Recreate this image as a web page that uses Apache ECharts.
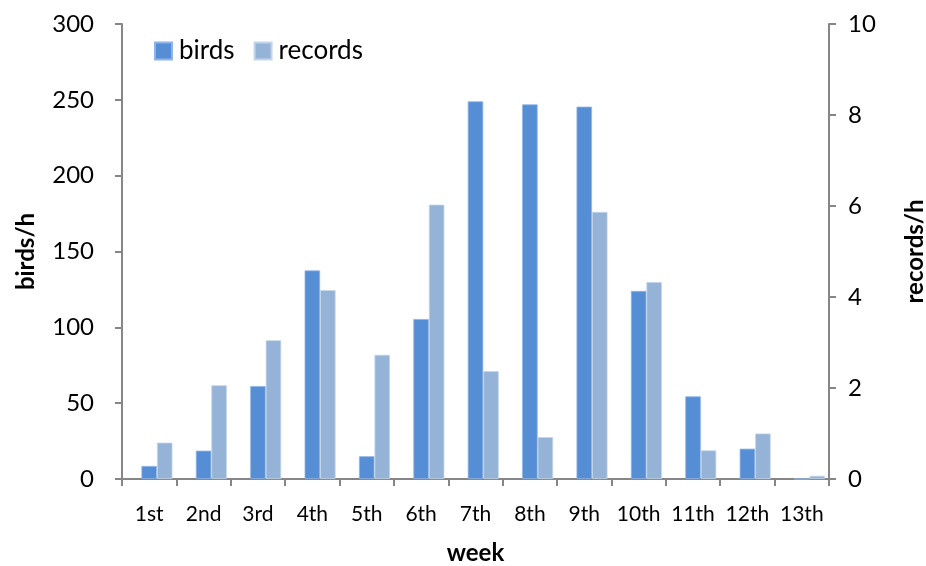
<!DOCTYPE html>
<html><head><meta charset="utf-8">
<script src="https://cdn.jsdelivr.net/npm/echarts@6/dist/echarts.min.js"></script>
<style>html,body{margin:0;padding:0;background:#fff;overflow:hidden}#c{width:926px;height:566px}</style>
</head><body><div id="c"></div>
<script>
const weeks = ['1st','2nd','3rd','4th','5th','6th','7th','8th','9th','10th','11th','12th','13th'];
const birds = [8.6, 18.7, 61.3, 137.5, 15.0, 105.5, 249, 247, 245.5, 124, 54.5, 20.0, 0];
const records = [0.80, 2.06, 3.05, 4.15, 2.73, 6.03, 2.37, 0.92, 5.87, 4.33, 0.63, 1.0, 0.07];
const leftTicks = [0, 300, 50];
const rightTicks = [0, 10, 2];

const F = 'Lato, "Open Sans", sans-serif';
const axisColor = '#868686';
const chart = echarts.init(document.getElementById('c'), null, {renderer:'canvas', width:926, height:566});
chart.setOption({
  animation:false,
  textStyle:{fontFamily:F},
  legend:{left:149, top:33, itemWidth:17, itemHeight:17, itemGap:19, icon:'rect',
    textStyle:{fontSize:26, color:'#000', fontFamily:F, padding:[0,0,0,2]},
    data:['birds','records']},
  grid:{left:122, right:97, top:24, bottom:87, containLabel:false, outerBoundsMode:'none'},
  xAxis:{type:'category', data:weeks,
    name:'week', nameLocation:'middle', nameGap:62,
    nameTextStyle:{fontSize:24, fontWeight:'bold', color:'#000', fontFamily:F},
    axisLine:{lineStyle:{color:axisColor, width:2}},
    axisTick:{show:true, length:7, lineStyle:{color:axisColor, width:2}},
    axisLabel:{fontSize:21, color:'#000', margin:25, interval:0, fontFamily:F}},
  yAxis:[
    {type:'value', min:leftTicks[0], max:leftTicks[1], interval:leftTicks[2],
      name:'birds/h', nameLocation:'middle', nameGap:84,
      nameTextStyle:{fontSize:24, fontWeight:'bold', color:'#000', fontFamily:F},
      axisLine:{show:true, lineStyle:{color:axisColor, width:2}},
      axisTick:{show:true, length:7, lineStyle:{color:axisColor, width:2}},
      axisLabel:{fontSize:24, color:'#000', margin:28, fontFamily:F},
      splitLine:{show:false}},
    {type:'value', min:rightTicks[0], max:rightTicks[1], interval:rightTicks[2],
      name:'records/h', nameLocation:'middle', nameGap:74, nameRotate:90,
      nameTextStyle:{fontSize:24, fontWeight:'bold', color:'#000', fontFamily:F},
      axisLine:{show:true, lineStyle:{color:axisColor, width:2}},
      axisTick:{show:true, length:7, lineStyle:{color:axisColor, width:2}},
      axisLabel:{fontSize:24, color:'#000', margin:19, fontFamily:F},
      splitLine:{show:false}}
  ],
  series:[
    {name:'spacer', type:'bar', yAxisIndex:0, data:[], barWidth:15.5, barGap:'0%',
      itemStyle:{color:'transparent'}, silent:true},
    {name:'birds', type:'bar', yAxisIndex:0, data:birds, barWidth:15.5, barGap:'0%',
      itemStyle:{color:'#558ED5', borderColor:'#8fb4e6', borderWidth:0.8}},
    {name:'records', type:'bar', yAxisIndex:1, data:records, barWidth:15.5, barGap:'0%',
      itemStyle:{color:'#95B3D7', borderColor:'#c3d5ea', borderWidth:0.8}}
  ]
});
</script></body></html>
